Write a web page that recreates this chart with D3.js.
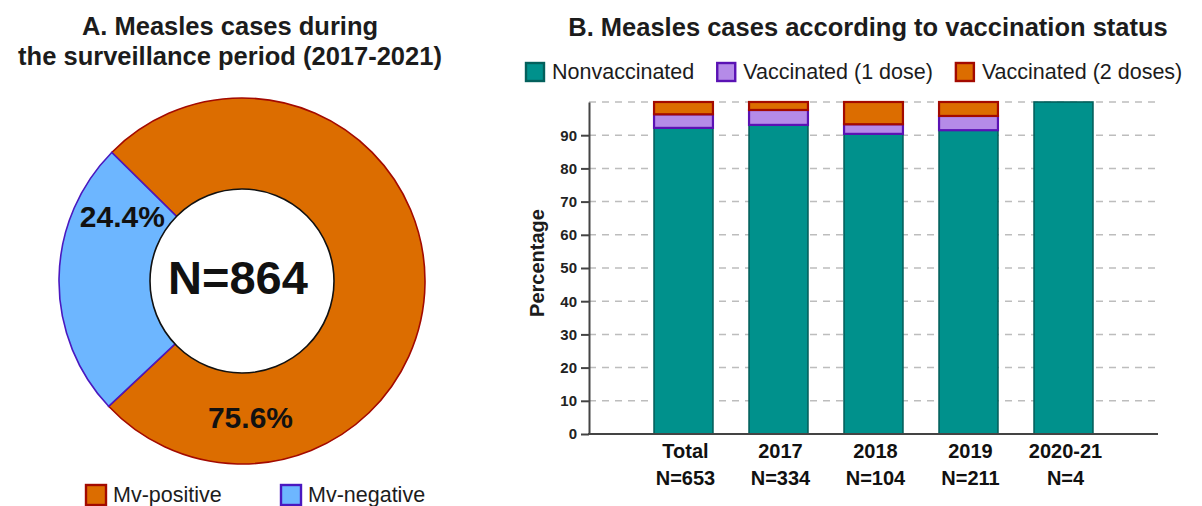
<!DOCTYPE html>
<html>
<head>
<meta charset="utf-8">
<script src="https://cdn.jsdelivr.net/npm/d3@7"></script>
<style>
  html, body { margin: 0; padding: 0; background: #fff; }
  svg { display: block; font-family: "Liberation Sans", Arial, sans-serif; }
</style>
</head>
<body>
<svg id="chart" width="1202" height="506"></svg>
<script>
// ---- Panel A data ----
const pieLabels = ["Mv-positive", "Mv-negative"];
const pieValues = [75.6, 24.4];
const pieTotalLabel = "N=864";

// ---- Panel B data ----
const categories = ["Total", "2017", "2018", "2019", "2020-21"];
const categoryN = ["N=653", "N=334", "N=104", "N=211", "N=4"];
const seriesNames = ["Nonvaccinated", "Vaccinated (1 dose)", "Vaccinated (2 doses)"];
const nonvaccinated = [92.2, 93.1, 90.4, 91.5, 100];
const vaccinated1 = [4.1, 4.5, 2.9, 4.3, 0];
const vaccinated2 = [3.7, 2.4, 6.7, 4.2, 0];
const yTicks = [0, 10, 20, 30, 40, 50, 60, 70, 80, 90];
const gridValues = [10, 20, 30, 40, 50, 60, 70, 80, 90, 100];

const svg = d3.select("#chart");
const textColor = "#1c1c1c";

// ================= Panel A: donut =================
const pieFill = ["#DC6D00", "#6DB6FF"];
const pieStroke = ["#A30A00", "#4A18C0"];
const cx = 242, cy = 281, rOuter = 183, rInner = 92;
const start = -0.792;

const gA = svg.append("g");
gA.append("text").attr("x", 230).attr("y", 35).attr("text-anchor", "middle")
  .attr("font-size", 25.5).attr("font-weight", "bold").attr("fill", textColor)
  .text("A. Measles cases during");
gA.append("text").attr("x", 230).attr("y", 65).attr("text-anchor", "middle")
  .attr("font-size", 25.5).attr("font-weight", "bold").attr("fill", textColor)
  .text("the surveillance period (2017-2021)");

const pie = d3.pie().sort(null).startAngle(start).endAngle(start + 2 * Math.PI);
const arcs = pie(pieValues);
const arc = d3.arc().innerRadius(0).outerRadius(rOuter);
const gPie = gA.append("g").attr("transform", `translate(${cx},${cy})`);
gPie.selectAll("path.slice").data(arcs).join("path")
  .attr("class", "slice")
  .attr("d", arc)
  .attr("fill", (d, i) => pieFill[i])
  .attr("stroke", (d, i) => pieStroke[i])
  .attr("stroke-width", 1.6);
gPie.append("circle").attr("r", rInner).attr("fill", "#fff")
  .attr("stroke", "#111").attr("stroke-width", 1.6);
gPie.append("text").attr("x", -4).attr("y", 13).attr("text-anchor", "middle")
  .attr("font-size", 47).attr("font-weight", "bold").attr("fill", "#111")
  .text(pieTotalLabel);

// label placement along each slice
const labelArc = d3.arc().innerRadius(136).outerRadius(136);
gPie.selectAll("text.pct").data(arcs).join("text")
  .attr("class", "pct")
  .attr("transform", d => {
    const a = d.startAngle + 0.815 * (d.endAngle - d.startAngle);
    const c = labelArc.centroid({ startAngle: a, endAngle: a });
    return `translate(${c[0]},${c[1]})`;
  })
  .attr("dy", "0.36em")
  .attr("text-anchor", "middle")
  .attr("font-size", 30).attr("font-weight", "bold").attr("fill", "#111")
  .text(d => d.data.toFixed(1) + "%");

// legend A
const legA = gA.append("g");
const legAx = [85, 280];
pieLabels.forEach((lab, i) => {
  legA.append("rect").attr("x", legAx[i] + 1).attr("y", 485).attr("width", 20).attr("height", 20)
    .attr("fill", pieFill[i]).attr("stroke", pieStroke[i]).attr("stroke-width", 2.4);
  legA.append("text").attr("x", legAx[i] + 28).attr("y", 502)
    .attr("font-size", 21.5).attr("fill", textColor).text(lab);
});

// ================= Panel B: stacked bars =================
const barFill = ["#00918C", "#B58BE8", "#DC6D00"];
const barStroke = ["#03605C", "#5A12B4", "#A30A00"];
const x0 = 589, x1 = 1158;
const y = d3.scaleLinear().domain([0, 100]).range([434, 102]);
const x = d3.scaleBand().domain(categories).range([636, 1111])
  .paddingInner(0.38).paddingOuter(0.19);

const gB = svg.append("g");
gB.append("text").attr("x", 868).attr("y", 36).attr("text-anchor", "middle")
  .attr("font-size", 25.5).attr("font-weight", "bold").attr("fill", textColor)
  .text("B. Measles cases according to vaccination status");

// legend B
const legB = gB.append("g");
let lx = 525;
seriesNames.forEach((name, i) => {
  legB.append("rect").attr("x", lx + 1).attr("y", 63).attr("width", 18).attr("height", 18)
    .attr("fill", barFill[i]).attr("stroke", barStroke[i]).attr("stroke-width", 2.4);
  const t = legB.append("text").attr("x", lx + 27).attr("y", 79)
    .attr("font-size", 21.5).attr("fill", textColor).text(name);
  lx = lx + 27 + t.node().getComputedTextLength() + 22;
});

// gridlines
gB.append("g").selectAll("line").data(gridValues).join("line")
  .attr("x1", x0).attr("x2", x1)
  .attr("y1", d => y(d)).attr("y2", d => y(d))
  .attr("stroke", "#bdbdbd").attr("stroke-width", 1.5)
  .attr("stroke-dasharray", "7,6");

// stacked bars
const rows = categories.map((c, i) => ({
  cat: c,
  [seriesNames[0]]: nonvaccinated[i],
  [seriesNames[1]]: vaccinated1[i],
  [seriesNames[2]]: vaccinated2[i]
}));
const stack = d3.stack().keys(seriesNames)(rows);
stack.forEach((layer, si) => {
  gB.append("g").selectAll("rect").data(layer.filter(d => d[1] - d[0] > 0)).join("rect")
    .attr("x", d => x(d.data.cat))
    .attr("width", x.bandwidth())
    .attr("y", d => y(d[1]))
    .attr("height", d => y(d[0]) - y(d[1]))
    .attr("fill", barFill[si])
    .attr("stroke", barStroke[si])
    .attr("stroke-width", si === 0 ? 1.6 : 2.2);
});

// y axis
const yAxis = gB.append("g").attr("transform", `translate(${x0},0)`)
  .call(d3.axisLeft(y).tickValues(yTicks).tickSize(8).tickSizeOuter(0).tickPadding(4));
yAxis.select(".domain").attr("stroke", "#444").attr("stroke-width", 2);
yAxis.selectAll(".tick line").attr("stroke", "#444").attr("stroke-width", 2);
yAxis.selectAll(".tick text").attr("font-size", 15).attr("font-weight", "bold")
  .attr("fill", "#222").attr("font-family", "'Liberation Sans', Arial, sans-serif");

// x axis line
gB.append("line").attr("x1", x0 - 1).attr("x2", x1).attr("y1", y(0)).attr("y2", y(0))
  .attr("stroke", "#444").attr("stroke-width", 2);

// x labels
const xl = gB.append("g");
categories.forEach((c, i) => {
  const cxb = x(c) + x.bandwidth() / 2 + 2;
  xl.append("text").attr("x", cxb).attr("y", 458).attr("text-anchor", "middle")
    .attr("font-size", 20).attr("font-weight", "bold").attr("fill", "#111").text(c);
  xl.append("text").attr("x", cxb).attr("y", 485).attr("text-anchor", "middle")
    .attr("font-size", 20).attr("font-weight", "bold").attr("fill", "#111").text(categoryN[i]);
});

// y title
gB.append("text").attr("transform", `translate(544,${y(50) + (-5)}) rotate(-90)`)
  .attr("text-anchor", "middle").attr("font-size", 20).attr("font-weight", "bold")
  .attr("fill", "#1c1c1c").text("Percentage");
</script>
</body>
</html>
